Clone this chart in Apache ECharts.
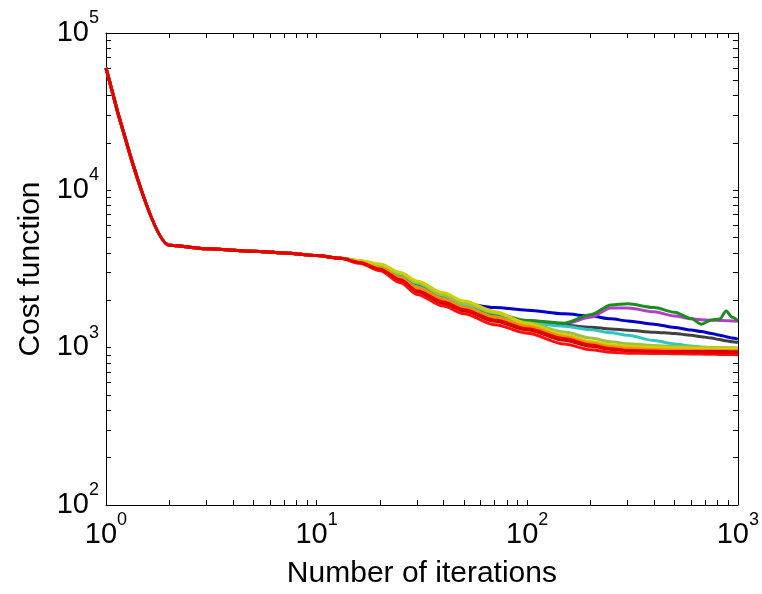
<!DOCTYPE html>
<html><head><meta charset="utf-8">
<script src="https://cdn.jsdelivr.net/npm/echarts@6/dist/echarts.min.js"></script>
<style>html,body{margin:0;padding:0;background:#fff}#c{width:762px;height:594px}</style>
</head><body><div id="c"></div><script>
const iterations = [1,2,3,5,7,10,13,16,20,25,30,40,50,70,100,150,200,250,300,400,500,600,670,750,820,880,940,1000];

const blueCost   = [60000,4480,4250,4100,4000,3850,3700,3530,3300,2850,2460,2080,1900,1800,1730,1640,1590,1525,1480,1410,1345,1295,1265,1230,1200,1175,1150,1133];
const greenCost  = [60000,4480,4250,4100,4000,3850,3700,3560,3360,2950,2560,2150,1920,1640,1490,1430,1620,1870,1900,1800,1680,1530,1410,1500,1520,1710,1560,1480];
const purpleCost = [60000,4480,4250,4100,4000,3850,3700,3550,3340,2920,2530,2120,1900,1630,1475,1415,1560,1790,1790,1690,1590,1525,1505,1495,1490,1485,1480,1470];
const grayCost   = [60000,4480,4250,4100,4000,3850,3700,3540,3300,2880,2480,2080,1880,1610,1450,1390,1350,1315,1290,1255,1230,1200,1175,1150,1125,1105,1090,1080];
const cyanCost   = [60000,4480,4250,4100,4000,3850,3700,3520,3280,2850,2450,2050,1860,1600,1440,1370,1300,1245,1200,1110,1055,1025,1010,1002,998,994,990,987];
const oliveCost  = [60000,4480,4250,4100,4000,3850,3700,3560,3350,2950,2580,2150,1910,1660,1440,1260,1150,1090,1060,1032,1016,1008,1003,1000,999,998,997,996];
const yellowCost = [60000,4480,4250,4100,4000,3850,3700,3580,3400,3000,2650,2230,1980,1700,1420,1210,1095,1045,1022,1006,1000,996,993,991,990,989,988,986];
const orangeCost = [60000,4480,4250,4100,4000,3850,3700,3500,3200,2780,2400,2030,1800,1560,1370,1175,1070,1015,990,972,966,962,960,958,957,956,955,955];
const darkRedCost= [60000,4480,4250,4100,4000,3850,3700,3470,3120,2660,2260,1910,1710,1470,1295,1115,1020,975,955,948,946,945,945,945,944,944,943,942];
const redBCost   = [60000,4480,4250,4100,4000,3850,3700,3440,3080,2590,2180,1840,1640,1400,1235,1055,970,935,922,918,915,912,910,908,906,905,904,903];
const redACost   = [60000,4480,4250,4100,4000,3850,3700,3480,3150,2700,2300,1950,1740,1500,1320,1140,1040,985,960,948,942,938,935,932,930,928,926,925];

const xTickValues = [1,2,3,4,5,6,7,8,9,10,20,30,40,50,60,70,80,90,100,200,300,400,500,600,700,800,900,1000];
const yTickValues = [100,200,300,400,500,600,700,800,900,1000,2000,3000,4000,5000,6000,7000,8000,9000,10000,20000,30000,40000,50000,60000,70000,80000,90000,100000];

const seriesDefs = [
  ['blue', blueCost, '#0000c8'],
  ['purple', purpleCost, '#b040c8'],
  ['gray', grayCost, '#404040'],
  ['cyan', cyanCost, '#30c4c4'],
  ['green', greenCost, '#1e8c1e'],
  ['olive', oliveCost, '#a0c040'],
  ['yellow', yellowCost, '#d0d000'],
  ['orange', orangeCost, '#ff8c00'],
  ['darkred', darkRedCost, '#c80000'],
  ['redB', redBCost, '#ff1010'],
  ['redA', redACost, '#e60000']
];

const FONT = 'Liberation Sans, Arial, sans-serif';
const powLabel = v => '{b|10}{e|' + Math.round(Math.log10(v)) + '}';
const rich = {
  b: {fontSize: 29, fontFamily: FONT, color: '#000', verticalAlign: 'bottom'},
  e: {fontSize: 18, fontFamily: FONT, color: '#000', padding: [0,0,20,0], verticalAlign: 'top'}
};
const axLine = {show: true, onZero: false, lineStyle: {color: '#000', width: 1}};

function xAx(pos, labels) {
  return {
    type: 'log', logBase: 10, min: 1, max: 1000, position: pos, gridIndex: 0,
    axisLine: axLine,
    axisTick: {show: true, inside: true, length: 5, customValues: xTickValues, lineStyle: {color: '#000'}},
    axisLabel: labels ? {show: true, margin: 6, formatter: powLabel, rich: rich} : {show: false},
    splitLine: {show: false},
    name: labels ? 'Number of iterations' : '',
    nameLocation: 'middle', nameGap: 54,
    nameTextStyle: {fontSize: 30, fontFamily: FONT, color: '#000'}
  };
}
function yAx(pos, labels) {
  return {
    type: 'log', logBase: 10, min: 100, max: 100000, position: pos, gridIndex: 0,
    axisLine: axLine,
    axisTick: {show: true, inside: true, length: 5, customValues: yTickValues, lineStyle: {color: '#000'}},
    axisLabel: labels ? {show: true, margin: 7, formatter: powLabel, rich: rich, padding: [0,0,10,0]} : {show: false},
    splitLine: {show: false},
    name: labels ? 'Cost function' : '',
    nameLocation: 'middle', nameGap: 60, nameRotate: 90,
    nameTextStyle: {fontSize: 30, fontFamily: FONT, color: '#000'}
  };
}

const chart = echarts.init(document.getElementById('c'), null, {renderer: 'canvas'});
chart.setOption({
  backgroundColor: '#fff',
  animation: false,
  grid: {left: 106, right: 23, top: 33, bottom: 85, containLabel: false},
  xAxis: [xAx('bottom', true), xAx('top', false)],
  yAxis: [yAx('left', true), yAx('right', false)],
  series: seriesDefs.map(([name, vals, color]) => ({
    name: name, type: 'line', xAxisIndex: 0, yAxisIndex: 0,
    data: iterations.map((x, i) => [x, vals[i]]),
    showSymbol: false, symbol: 'none', smooth: 0.3, smoothMonotone: 'x',
    lineStyle: {color: color, width: 3}
  }))
});
</script></body></html>
